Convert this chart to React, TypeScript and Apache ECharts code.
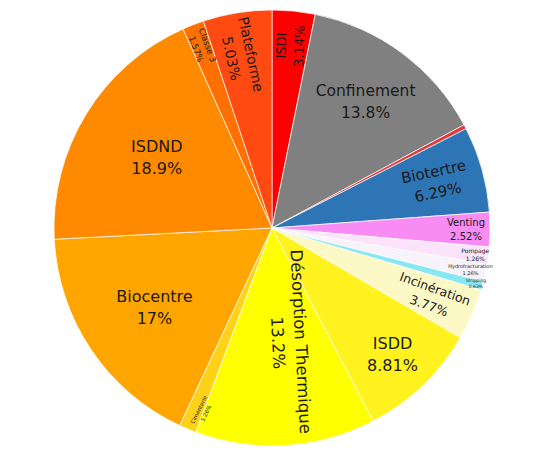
import React, { useEffect, useRef } from "react";
import * as echarts from "echarts";

const categories = [
  "ISDI", "Confinement", "Autre", "Biotertre", "Venting", "Pompage",
  "Hydrofracturation", "Stripping", "Incinération", "ISDD",
  "Désorption Thermique", "Cimenterie", "Biocentre", "ISDND", "Classe 3", "Plateforme",
];
const percentValues = [
  3.14, 13.8, 0.31, 6.29, 2.52, 1.26, 1.26, 0.63, 3.77, 8.81, 13.2, 1.26, 17, 18.9, 1.57, 5.03,
];

const sliceColors = [
  "#ff0000", "#808080", "#e03a3a", "#2e75b6", "#f98bf5", "#fbe3fb", "#f8f2fa", "#86e8f2",
  "#fdf9c6", "#fff21e", "#ffff00", "#ffd21a", "#ffa500", "#ff8a00", "#ff7000", "#ff4a12",
];
const labelRadiusFrac = [0.84, 0.72, 0.5, 0.78, 0.89, 0.94, 0.93, 0.97, 0.8, 0.8, 0.53, 0.9, 0.65, 0.62, 0.89, 0.8];
const labelAngleShift = [0, 0, 0, 0, 0, 0, 0, 0, 0, 0, -5, -2, 0, 0, 0, -1];
const labelRotate = [88, 0, 0, 12, 0, 0, 0, 0, -20, 0, -87, 64, 0, 0, -70, -78];
const labelSize = [13, 15.5, 0, 15, 10, 6, 5, 4.5, 12.5, 16, 16.5, 5.5, 16, 16, 8.5, 14];

const CX = 272;
const CY = 228;
const R = 218;

export default function App() {
  const ref = useRef<HTMLDivElement>(null);
  useEffect(() => {
    if (!ref.current) return;
    const chart = echarts.init(ref.current, null, { renderer: "svg" });
    const total = percentValues.reduce((a, b) => a + b, 0);
    const mids: number[] = [];
    let cum = 0;
    percentValues.forEach((v) => {
      mids.push(-Math.PI / 2 + ((cum + v / 2) / total) * Math.PI * 2);
      cum += v;
    });
    const data = categories.map((name, i) => ({
      name,
      value: percentValues[i],
      itemStyle: { color: sliceColors[i] },
      label: {
        show: labelSize[i] > 0,
        rotate: labelRotate[i],
        fontSize: labelSize[i],
        lineHeight: Math.round(labelSize[i] * 1.4),
      },
    }));
    chart.setOption({
      animation: false,
      series: [
        {
          type: "pie",
          center: [CX, CY],
          radius: [0, R],
          startAngle: 90,
          clockwise: true,
          avoidLabelOverlap: false,
          itemStyle: { borderColor: "#ffffff", borderWidth: 0.7 },
          label: {
            position: "inside",
            color: "#1a1a1a",
            fontFamily: "DejaVu Sans",
            formatter: (p: any) => `${p.name}\n${p.value}%`,
          },
          labelLine: { show: false },
          labelLayout: (p: any) => {
            const i = p.dataIndex;
            const a = mids[i] + (labelAngleShift[i] * Math.PI) / 180;
            const d = labelRadiusFrac[i] * R;
            return { x: CX + d * Math.cos(a), y: CY + d * Math.sin(a) };
          },
          data,
        },
      ],
    });
    return () => chart.dispose();
  }, []);
  return (
    <div
      ref={ref}
      style={{ position: "fixed", left: 0, top: 0, width: 537, height: 457, background: "#fff" }}
    />
  );
}
